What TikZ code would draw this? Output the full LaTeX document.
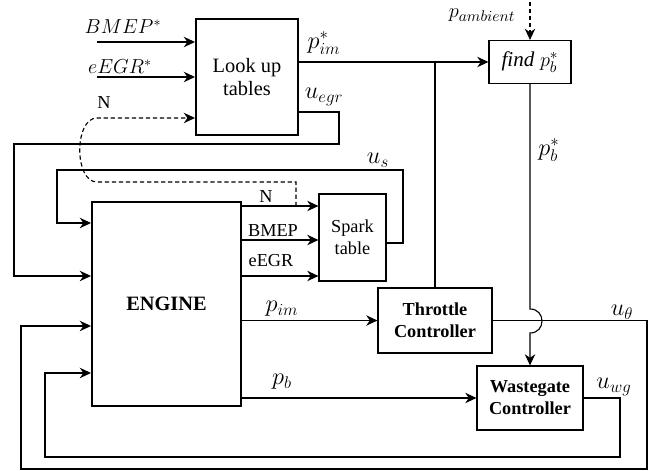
\documentclass[tikz,border=0pt]{standalone}
\usepackage{fontspec}
\setmainfont{Liberation Serif}
\usetikzlibrary{arrows.meta,positioning,calc}
\tikzset{
  bigblock/.style={rectangle, draw, line width=1.4pt, align=center, inner sep=0pt, font=\fontsize{14.5}{17}\selectfont},
  block/.style={rectangle, draw, line width=0.8pt, align=center, inner sep=0pt, font=\fontsize{13}{15.5}\selectfont},
  arrow/.style={-{Stealth[length=2.8mm,width=2.6mm,inset=0.9mm]}, line width=0.8pt},
  dashedarrow/.style={arrow, dash pattern=on 3pt off 2pt},
  line/.style={line width=0.8pt},
  lbl/.style={inner sep=0pt, font=\fontsize{14}{16}\selectfont},
  sublbl/.style={inner sep=0pt, font=\fontsize{17}{19}\selectfont},
  txt/.style={inner sep=0pt, font=\fontsize{13}{15.5}\selectfont}
}

\begin{document}
\begin{tikzpicture}[x=0.025cm, y=-0.025cm]
\useasboundingbox (0,0) rectangle (660,471);
% blocks
\node[bigblock, minimum width=2.55cm, minimum height=2.9cm] (lut) at (247,77) {Look up\\tables};
\node[block, minimum width=2.05cm, minimum height=1.075cm, font=\fontsize{15}{17}\selectfont] (findpb) at (530,62) {$\mathit{find}\;p_b^*$};
\node[bigblock, minimum width=3.725cm, minimum height=5.1cm, font=\fontsize{14.5}{17}\selectfont\bfseries] (engine) at (166.5,304) {ENGINE};
\node[block, minimum width=1.675cm, minimum height=2.175cm] (spark) at (352.5,237.5) {Spark\\table};
\node[block, minimum width=2.85cm, minimum height=1.625cm, font=\fontsize{13}{15.5}\selectfont\bfseries] (throttle) at (435,320.5) {Throttle\\Controller};
\node[block, minimum width=2.65cm, minimum height=1.6cm, font=\fontsize{13}{15.5}\selectfont\bfseries] (wastegate) at (530,398) {Wastegate\\Controller};

% free ends
\coordinate (bmepin) at (97,42);
\coordinate (egrin) at (97,77);
\coordinate (nin) at (97,118);
\coordinate (ntap) at (296,206);
\coordinate (ambin) at (530,2);

% inputs to look up tables
\draw[arrow] (bmepin) -- (bmepin -| lut.west);
\draw[arrow] (egrin) -- (egrin -| lut.west);
\draw[dashedarrow] (ntap) -- (296,182) -- (97,182) .. controls (74,182) and (74,118) .. (nin) -- (nin -| lut.west);

% set points
\draw[arrow] (lut.east |- findpb.west) -- (findpb.west);
\draw[line] (throttle.north |- findpb.west) -- (throttle.north);
\draw[dashedarrow] (ambin) -- (findpb.north);
\draw[arrow] (findpb.south) -- (530,309) .. controls (546,309) and (546,333) .. (530,333) -- (wastegate.north);

% feedback to engine
\draw[arrow] (lut.east |- 0,112) -- (339,112) -- (339,144) -- (14,144) -- (14,276) -- (engine.west |- 0,276);
\draw[arrow] (spark.east |- 0,243) -- (403,243) -- (403,170) -- (57,170) -- (57,223) -- (engine.west |- 0,223);
\draw[arrow] (throttle.east) -- (647,320.5) -- (647,469) -- (21,469) -- (21,326) -- (engine.west |- 0,326);
\draw[arrow] (wastegate.east) -- (620,398) -- (620,457) -- (45,457) -- (45,373) -- (engine.west |- 0,373);

% engine outputs
\draw[arrow] (engine.east |- 0,206) -- (spark.west |- 0,206);
\draw[arrow] (engine.east |- 0,240) -- (spark.west |- 0,240);
\draw[arrow] (engine.east |- 0,276) -- (spark.west |- 0,276);
\draw[arrow] (engine.east |- throttle.west) -- (throttle.west);
\draw[arrow] (engine.east |- wastegate.west) -- (wastegate.west);

% labels
\node[lbl] (bmeplbl) at (123,27) {$BMEP^*$};
\node[lbl] (egrlbl) at (120,67) {$eEGR^*$};
\node[txt] (nlbl) at (104,103) {N};
\node[sublbl] (pimslbl) at (324,43) {$p_{im}^*$};
\node[sublbl] (uegrlbl) at (324,97) {$u_{egr}$};
\node[lbl, font=\fontsize{15}{17}\selectfont] (amblbl) at (482,15) {$p_{ambient}$};
\node[sublbl] (pbslbl) at (549,150) {$p_b^*$};
\node[sublbl] (uslbl) at (378,160) {$u_s$};
\node[txt] (nsparklbl) at (266,197) {N};
\node[txt] (bmepsparklbl) at (273,231) {BMEP};
\node[txt] (egrsparklbl) at (271,261) {eEGR};
\node[sublbl] (pimlbl) at (282,309) {$p_{im}$};
\node[sublbl] (pblbl) at (282,382) {$p_b$};
\node[sublbl] (uthlbl) at (622,312) {$u_\theta$};
\node[sublbl] (uwglbl) at (614,387) {$u_{wg}$};
\end{tikzpicture}
\end{document}
